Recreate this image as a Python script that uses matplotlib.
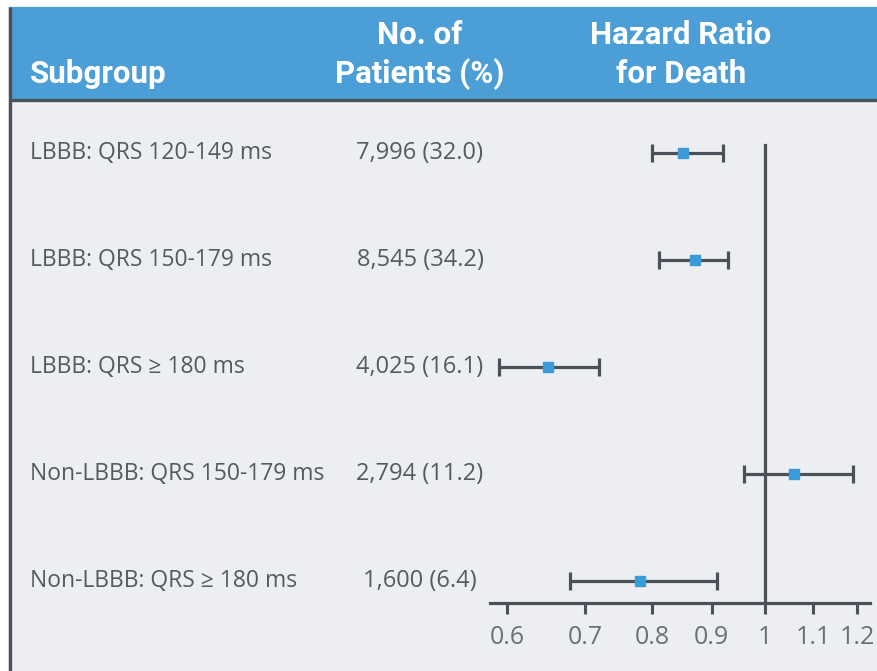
import matplotlib
matplotlib.use("Agg")
import matplotlib.pyplot as plt
from matplotlib.patches import Rectangle
from matplotlib.transforms import blended_transform_factory
from matplotlib.ticker import FixedLocator, FixedFormatter, NullLocator

# Subgroup data
subgroups = [
    "LBBB: QRS 120-149 ms",
    "LBBB: QRS 150-179 ms",
    "LBBB: QRS \u2265 180 ms",
    "Non-LBBB: QRS 150-179 ms",
    "Non-LBBB: QRS \u2265 180 ms",
]
patients = ["7,996 (32.0)", "8,545 (34.2)", "4,025 (16.1)", "2,794 (11.2)", "1,600 (6.4)"]
hazard_ratio = [0.85, 0.87, 0.65, 1.06, 0.78]
ci_low = [0.80, 0.81, 0.59, 0.96, 0.68]
ci_high = [0.92, 0.93, 0.72, 1.19, 0.91]
tick_values = [0.6, 0.7, 0.8, 0.9, 1.0, 1.1, 1.2]
tick_labels = ["0.6", "0.7", "0.8", "0.9", "1", "1.1", "1.2"]

W, H = 878, 671
BLUE = "#4c9fd6"
PANEL = "#eceef2"
DARK = "#4b5158"
TEXT = "#555a61"
MARK = "#3b9ad8"

body_font = ["Open Sans", "DejaVu Sans"]
head_font = ["Roboto", "DejaVu Sans"]

fig = plt.figure(figsize=(W / 100, H / 100), dpi=100)
fig.patch.set_facecolor("white")

# Panel and header drawn in pixel units
bg = fig.add_axes([0, 0, 1, 1])
bg.set_xlim(0, W)
bg.set_ylim(H, 0)
bg.axis("off")
bg.add_patch(Rectangle((9, 7), 880, 700, facecolor=PANEL, edgecolor="#9aa0a6", lw=1.0))
bg.add_patch(Rectangle((9, 7), 880, 92, facecolor=BLUE, edgecolor="none"))
bg.plot([9, 880], [100, 100], color=DARK, lw=2.4, solid_capstyle="butt")
bg.plot([10, 10], [7, 700], color=DARK, lw=2.4, solid_capstyle="butt")

hkw = dict(color="white", fontweight="bold", fontsize=22.5, family=head_font)
bg.text(30, 74, "Subgroup", ha="left", va="center", **hkw)
bg.text(420, 35, "No. of", ha="center", va="center", **hkw)
bg.text(420, 74, "Patients (%)", ha="center", va="center", **hkw)
bg.text(681, 35, "Hazard Ratio", ha="center", va="center", **hkw)
bg.text(681, 74, "for Death", ha="center", va="center", **hkw)

# Forest plot axes (log scale)
left_px, right_px = 490, 870
top_px, bottom_px = 130, 603
ax = fig.add_axes([left_px / W, 1 - bottom_px / H, (right_px - left_px) / W, (bottom_px - top_px) / H])
ax.set_facecolor("none")
ax.set_xscale("log")
ax.set_xlim(0.580, 1.231)
n = len(subgroups)
ys = [n - 1 - i for i in range(n)]
ax.set_ylim(-0.205, n - 1 + 0.215)

for s in ["top", "right", "left"]:
    ax.spines[s].set_visible(False)
ax.spines["bottom"].set_color(DARK)
ax.spines["bottom"].set_linewidth(2.3)
ax.yaxis.set_major_locator(NullLocator())
ax.xaxis.set_major_locator(FixedLocator(tick_values))
ax.xaxis.set_major_formatter(FixedFormatter(tick_labels))
ax.xaxis.set_minor_locator(NullLocator())
ax.tick_params(axis="x", direction="out", length=8, width=2.2, color=DARK,
               pad=8, labelsize=18, labelcolor="#6b7077")
for lab in ax.get_xticklabels():
    lab.set_family(body_font)

# reference line at HR = 1
y0, y1 = ax.get_ylim()
ax.axvline(1.0, ymin=0, ymax=(n - 1 + 0.075 - y0) / (y1 - y0), color=DARK, lw=2.3)

xerr = [[h - lo for h, lo in zip(hazard_ratio, ci_low)],
        [hi - h for h, hi in zip(hazard_ratio, ci_high)]]
ax.errorbar(hazard_ratio, ys, xerr=xerr, fmt="s", color=MARK, markersize=7.5,
            ecolor=DARK, elinewidth=2.3, capsize=6.5, capthick=2.3, zorder=3)

# Row labels
tr = blended_transform_factory(fig.transFigure, ax.transData)
for y, name, pts in zip(ys, subgroups, patients):
    ax.text(30 / W, y, name, transform=tr, ha="left", va="center",
            fontsize=16.5, color=TEXT, family=body_font, clip_on=False)
    ax.text(420 / W, y, pts, transform=tr, ha="center", va="center",
            fontsize=17, color=TEXT, family=body_font, clip_on=False)

fig.savefig("out.png", dpi=100)
